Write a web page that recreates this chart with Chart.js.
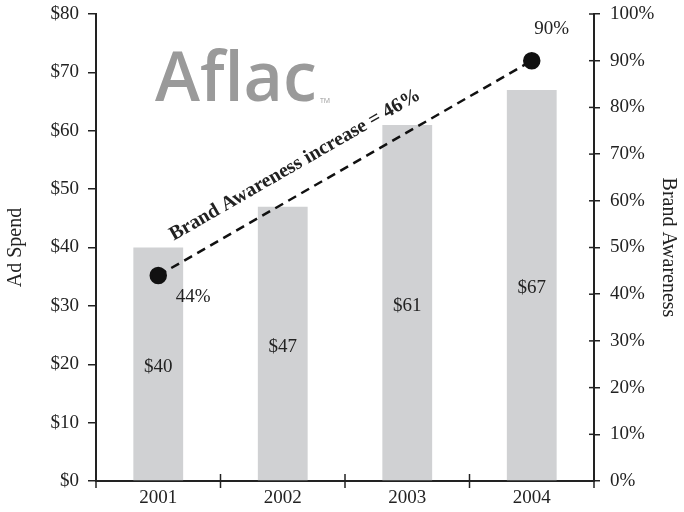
<!DOCTYPE html>
<html>
<head>
<meta charset="utf-8">
<script src="https://cdn.jsdelivr.net/npm/chart.js@4/dist/chart.umd.min.js"></script>
<style>
  body { margin: 0; background: #fff; }
</style>
</head>
<body>
<canvas id="myChart" width="684" height="512"></canvas>
<script>
// Donnees du graphique
const years = ['2001', '2002', '2003', '2004'];
const adSpend = [40, 47, 61, 67];
const awareness = [44, null, null, 90];
const spendTicks = [0, 10, 20, 30, 40, 50, 60, 70, 80];
const awarenessTicks = [0, 10, 20, 30, 40, 50, 60, 70, 80, 90, 100];
const annotation = 'Brand Awareness increase = 46%';

const serif = '"Liberation Serif", "DejaVu Serif", serif';
const ink = '#222';

// Plugin pour les etiquettes, le logo et les petites graduations
const extras = {
    id: 'extras',
    afterDatasetsDraw(chart) {
        const ctx = chart.ctx;
        const bars = chart.getDatasetMeta(0).data;
        const pts = chart.getDatasetMeta(1).data;
        const yScale = chart.scales.y;

        // Graduations qui traversent l'axe x
        const x = chart.scales.x;
        ctx.save();
        ctx.strokeStyle = ink;
        ctx.lineWidth = 1.5;
        const b = chart.chartArea.bottom;
        for (let i = 0; i <= years.length; i++) {
            const px = x.left + i * (x.width / years.length);
            ctx.beginPath();
            ctx.moveTo(px, b - 7);
            ctx.lineTo(px, b + 7);
            ctx.stroke();
        }
        // Graduations vers l'interieur sur l'axe de droite
        const y1 = chart.scales.y1;
        awarenessTicks.forEach(v => {
            const py = y1.getPixelForValue(v);
            ctx.beginPath();
            ctx.moveTo(y1.left, py);
            ctx.lineTo(y1.left - 5, py);
            ctx.stroke();
        });
        ctx.restore();

        // Valeurs au milieu des barres
        ctx.save();
        ctx.fillStyle = ink;
        ctx.font = '19px ' + serif;
        ctx.textAlign = 'center';
        ctx.textBaseline = 'middle';
        bars.forEach((bar, i) => {
            ctx.fillText('$' + adSpend[i], bar.x, (bar.y + yScale.bottom) / 2 + 3);
        });
        // Etiquettes des points
        const first = pts[0];
        const last = pts[3];
        ctx.fillText(awareness[0] + '%', first.x + 35, first.y + 21);
        ctx.fillText(awareness[3] + '%', last.x + 20, last.y - 32);

        // Texte incline le long de la ligne
        const ang = Math.atan2(last.y - first.y, last.x - first.x);
        ctx.translate((first.x + last.x) / 2 - 50, (first.y + last.y) / 2 - 3);
        ctx.rotate(ang);
        ctx.font = 'bold 20px ' + serif;
        ctx.fillText(annotation, 0, 0);
        ctx.restore();

        // Logo Aflac
        ctx.save();
        ctx.fillStyle = '#9a9a9a';
        ctx.font = '600 68px "Open Sans", sans-serif';
        ctx.textAlign = 'left';
        ctx.textBaseline = 'alphabetic';
        ctx.fillText('Aflac', 155, 101);
        ctx.font = '7px "Open Sans", sans-serif';
        ctx.fillText('TM', 320, 103);
        ctx.restore();
    }
};

new Chart(document.getElementById('myChart'), {
    type: 'bar',
    data: {
        labels: years,
        datasets: [{
            type: 'bar',
            data: adSpend,
            yAxisID: 'y',
            backgroundColor: '#d0d1d3',
            barPercentage: 0.4,
            categoryPercentage: 1,
            order: 2
        }, {
            type: 'line',
            data: awareness,
            yAxisID: 'y1',
            spanGaps: true,
            borderColor: '#111',
            borderWidth: 2.5,
            borderDash: [9, 6],
            pointRadius: 7.5,
            pointBackgroundColor: '#111',
            pointBorderColor: '#111',
            order: 1
        }]
    },
    options: {
        responsive: false,
        animation: false,
        layout: { padding: { top: 14, left: 0, right: 0, bottom: 0 } },
        plugins: {
            legend: { display: false },
            tooltip: { enabled: false }
        },
        scales: {
            x: {
                offset: true,
                grid: { display: false, drawTicks: false },
                border: { color: ink, width: 2 },
                ticks: { color: ink, font: { family: serif, size: 19 }, padding: 6 },
                afterFit(s) { s.height = 31; }
            },
            y: {
                position: 'left',
                min: 0,
                max: 80,
                afterBuildTicks(s) { s.ticks = spendTicks.map(v => ({ value: v })); },
                grid: { drawOnChartArea: false, color: ink, tickLength: 8, lineWidth: 1.5 },
                border: { color: ink, width: 2 },
                ticks: { color: ink, font: { family: serif, size: 19 }, padding: 9, callback: v => '$' + v },
                title: { display: true, text: 'Ad Spend', color: ink, font: { family: serif, size: 20 }, padding: { top: 4, bottom: 0 } },
                afterFit(s) { s.width = 96; s.paddingTop = 0; s.paddingBottom = 0; }
            },
            y1: {
                position: 'right',
                min: 0,
                max: 100,
                afterBuildTicks(s) { s.ticks = awarenessTicks.map(v => ({ value: v })); },
                grid: { drawOnChartArea: false, color: ink, tickLength: 6, lineWidth: 1.5 },
                border: { color: ink, width: 2 },
                ticks: { color: ink, font: { family: serif, size: 19 }, padding: 10, callback: v => v + '%' },
                title: { display: true, text: 'Brand Awareness', color: ink, font: { family: serif, size: 20 }, padding: { top: 4, bottom: 0 } },
                afterFit(s) { s.width = 90; s.paddingTop = 0; s.paddingBottom = 0; }
            }
        }
    },
    plugins: [extras]
});
</script>
</body>
</html>
